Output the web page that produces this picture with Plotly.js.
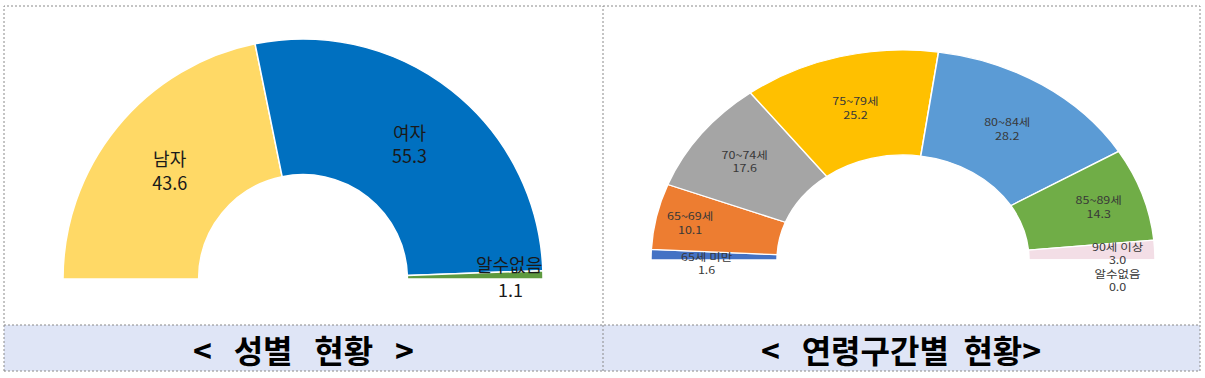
<!DOCTYPE html>
<html>
<head>
<meta charset="utf-8">
<script src="https://cdn.plot.ly/plotly-3.0.1.min.js"></script>
<style>
html,body{margin:0;padding:0;overflow:hidden;background:#fff;}
#wrap{position:relative;width:1205px;height:378px;overflow:hidden;}
#bg{position:absolute;left:0;top:0;width:1205px;height:378px;}
#pie1{position:absolute;left:63px;top:39px;width:480px;height:480px;}
#pie2{position:absolute;left:651px;top:50px;width:504px;height:504px;transform:scaleY(0.8333);transform-origin:0 0;}
</style>
</head>
<body>
<div id="wrap">
  <div id="bg"></div>
  <div id="pie1"></div>
  <div id="pie2"></div>
</div>
<script>
// ---- data ----
const genderLabels = ['남자', '여자', '알수없음'];
const genderValues = [43.6, 55.3, 1.1];
const genderColors = ['#FFD966', '#0070C0', '#5E9A3F'];

const ageLabels = ['65세 미만', '65~69세', '70~74세', '75~79세', '80~84세', '85~89세', '90세 이상', '알수없음'];
const ageValues = [1.6, 10.1, 17.6, 25.2, 28.2, 14.3, 3.0, 0.0];
const ageColors = ['#4472C4', '#ED7D31', '#A5A5A5', '#FFC000', '#5B9BD5', '#70AD47', '#F3DEE6', '#264478'];

const titleLeft = '<\u00A0\u00A0 성별\u00A0\u00A0 현황\u00A0\u00A0 >';
const titleRight = '<\u00A0\u00A0 연령구간별\u00A0 현황>';

const FONT = '"Noto Sans CJK KR", "Noto Sans", sans-serif';
const cfg = {displayModeBar: false, staticPlot: true};

// ---- background panels ----
const W = 1205, H = 378;
const px = v => v / W, py = v => 1 - v / H;
const dot = {color: '#8a8a8a', width: 1, dash: '2px,2px'};
Plotly.newPlot('bg', [], {
  width: W, height: H, margin: {l: 0, r: 0, t: 0, b: 0},
  paper_bgcolor: '#ffffff', plot_bgcolor: '#ffffff',
  xaxis: {visible: false, range: [0, 1]}, yaxis: {visible: false, range: [0, 1]},
  shapes: [
    {type: 'rect', xref: 'paper', yref: 'paper', x0: px(4), x1: px(1200), y0: py(371), y1: py(325),
     fillcolor: '#DFE5F6', line: {width: 0}, layer: 'below'},
    {type: 'rect', xref: 'paper', yref: 'paper', x0: px(4), x1: px(1200), y0: py(371), y1: py(6),
     fillcolor: 'rgba(0,0,0,0)', line: dot},
    {type: 'line', xref: 'paper', yref: 'paper', x0: px(4), x1: px(1200), y0: py(325), y1: py(325), line: dot},
    {type: 'line', xref: 'paper', yref: 'paper', x0: px(603), x1: px(603), y0: py(371), y1: py(6), line: dot}
  ],
  annotations: [
    {xref: 'paper', yref: 'paper', x: px(303), y: py(349), text: titleLeft, showarrow: false,
     xanchor: 'center', yanchor: 'middle', font: {family: FONT, size: 32, color: '#000', weight: 'bold'}},
    {xref: 'paper', yref: 'paper', x: px(901), y: py(349), text: titleRight, showarrow: false,
     xanchor: 'center', yanchor: 'middle', font: {family: FONT, size: 32, color: '#000', weight: 'bold'}}
  ]
}, cfg);

// ---- half donut helper ----
function halfDonut(labels, values, colors, hole, fontSize, fontColor, insideMask) {
  const total = values.reduce((a, b) => a + b, 0);
  return {
    type: 'pie', sort: false, direction: 'clockwise', rotation: 270, hole: hole,
    labels: labels.concat(['\u200B']), values: values.concat([total]),
    marker: {colors: colors.concat(['rgba(0,0,0,0)']),
             line: {color: '#ffffff', width: values.map(() => 1.5).concat([0])}},
    textposition: insideMask.map(m => m ? 'inside' : 'none').concat(['none']),
    texttemplate: '%{label}<br>%{value:.1f}',
    insidetextorientation: 'horizontal',
    textfont: {family: FONT, size: fontSize, color: fontColor},
    hoverinfo: 'skip', showlegend: false,
    domain: {x: [0, 1], y: [0, 1]}
  };
}

// ---- left: gender ----
const leftFont = {family: FONT, size: 18, color: '#1a1a1a'};
Plotly.newPlot('pie1', [halfDonut(genderLabels, genderValues, genderColors, 0.435, 18, '#1a1a1a', [true, true, false])], {
  width: 480, height: 480, margin: {l: 0, r: 0, t: 0, b: 0},
  paper_bgcolor: 'rgba(0,0,0,0)', showlegend: false,
  uniformtext: {mode: 'show', minsize: 18},
  annotations: [
    {xref: 'paper', yref: 'paper', x: (509 - 63) / 480, y: 1 - (264 - 39) / 480,
     text: genderLabels[2], showarrow: false, xanchor: 'center', yanchor: 'middle', font: leftFont},
    {xref: 'paper', yref: 'paper', x: (510 - 63) / 480, y: 1 - (289 - 39) / 480,
     text: genderValues[2].toFixed(1), showarrow: false, xanchor: 'center', yanchor: 'middle', font: leftFont}
  ]
}, cfg);

// ---- right: age (vertically squashed like the reference) ----
const sy = s => 1 - ((s - 50) / 0.8333) / 504;
const sx = s => (s - 651) / 504;
const ageFont = {family: FONT, size: 12.5, color: '#383838'};
Plotly.newPlot('pie2', [halfDonut(ageLabels, ageValues, ageColors, 0.5, 12.5, '#383838', [false, true, true, true, true, true, false, false])], {
  width: 504, height: 504, margin: {l: 0, r: 0, t: 0, b: 0},
  paper_bgcolor: 'rgba(0,0,0,0)', showlegend: false,
  uniformtext: {mode: 'show', minsize: 12.5},
  annotations: [
    {xref: 'paper', yref: 'paper', x: sx(707), y: sy(263), showarrow: false, xanchor: 'center', yanchor: 'middle',
     text: ageLabels[0] + '<br>' + ageValues[0].toFixed(1), font: ageFont},
    {xref: 'paper', yref: 'paper', x: sx(1118), y: sy(267), showarrow: false, xanchor: 'center', yanchor: 'middle',
     text: ageLabels[6] + '<br>' + ageValues[6].toFixed(1) + '<br>' + ageLabels[7] + '<br>' + ageValues[7].toFixed(1),
     font: ageFont}
  ]
}, cfg);
</script>
</body>
</html>
